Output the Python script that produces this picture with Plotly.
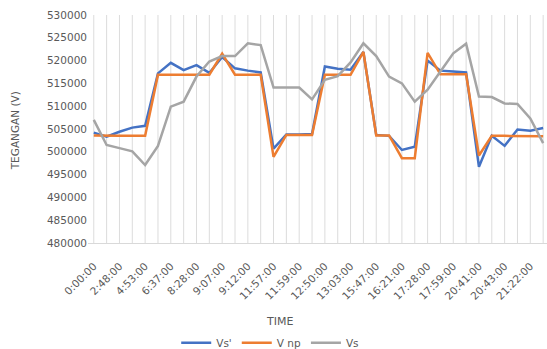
import plotly.graph_objects as go

# Sample positions along the time axis (every second one carries a label)
n_points = 36
tick_labels = ["0:00:00", "2:48:00", "4:53:00", "6:37:00", "8:28:00", "9:07:00",
               "9:12:00", "11:57:00", "11:59:00", "12:50:00", "13:03:00", "15:47:00",
               "16:21:00", "17:28:00", "17:59:00", "20:41:00", "20:43:00", "21:22:00"]

vs_prime = [504200, 503300, 504400, 505300, 505700, 517200, 519500, 517900, 519000,
            517300, 520800, 518300, 517800, 517400, 500700, 503800, 503800, 503900,
            518700, 518200, 518000, 521900, 503700, 503500, 500400, 501100, 520000,
            517800, 517600, 517400, 496700, 503500, 501300, 504900, 504600, 505200]

v_np = [503600, 503500, 503500, 503500, 503500, 516900, 516900, 516900, 516900,
        516900, 521500, 516900, 516900, 516900, 498900, 503700, 503700, 503700,
        516900, 516900, 516900, 521900, 503600, 503600, 498600, 498600, 521700,
        517000, 517000, 517000, 499200, 503500, 503500, 503500, 503500, 503400]

vs = [507000, 501500, 500800, 500100, 497100, 501300, 509900, 511000, 516500,
      519800, 521000, 521000, 523800, 523400, 514100, 514100, 514100, 511500,
      515800, 516600, 519600, 523800, 521000, 516500, 515000, 511000, 513600,
      517600, 521600, 523700, 512100, 512000, 510600, 510500, 507300, 501900]

x = list(range(n_points))
text_color = "#595959"
font_family = "DejaVu Sans"

fig = go.Figure()
for name, values, color in [("Vs'", vs_prime, "#4472C4"),
                            ("V np", v_np, "#ED7D31"),
                            ("Vs", vs, "#A5A5A5")]:
    fig.add_trace(go.Scatter(x=x, y=values, name=name, mode="lines",
                             line=dict(color=color, width=2.5)))

fig.update_layout(
    width=547, height=349,
    margin=dict(l=88, r=0, t=15, b=106),
    paper_bgcolor="white", plot_bgcolor="white",
    font=dict(family=font_family, size=10.5, color=text_color),
    showlegend=True,
    legend=dict(orientation="h", xref="container", x=0.494, xanchor="center",
                yref="container", y=0.018, yanchor="middle",
                font=dict(size=10.5, color=text_color), itemwidth=30,
                tracegroupgap=0),
    xaxis=dict(
        range=[-0.45, 35.3], automargin=False,
        tickmode="array", tickvals=x[::2], ticktext=tick_labels,
        tickangle=-45, showgrid=False, zeroline=False,
        showline=True, linecolor="#d9d9d9", linewidth=1,
        ticks="", ticklabelstandoff=12,
        tickfont=dict(size=10.5, color=text_color),
    ),
    yaxis=dict(
        range=[480000, 530000], dtick=5000, tickformat="d", automargin=False,
        showgrid=False, zeroline=False, showline=False, ticks="",
        tickfont=dict(size=10.5, color=text_color),
    ),
)

# Vertical gridlines at every sample position
for xi in x:
    fig.add_shape(type="line", xref="x", yref="y", x0=xi, x1=xi,
                  y0=480000, y1=530000, layer="below",
                  line=dict(color="#dcdcdc", width=1))

# Axis titles
fig.add_annotation(text="TIME", xref="paper", yref="paper", x=0.417, y=-0.346,
                   xanchor="center", yanchor="middle", showarrow=False,
                   font=dict(size=11, color=text_color))
fig.add_annotation(text="TEGANGAN (V)", xref="paper", yref="paper", x=-0.159, y=0.49,
                   xanchor="center", yanchor="middle", textangle=-90, showarrow=False,
                   font=dict(size=10.5, color=text_color))

fig.write_html("out.html")
